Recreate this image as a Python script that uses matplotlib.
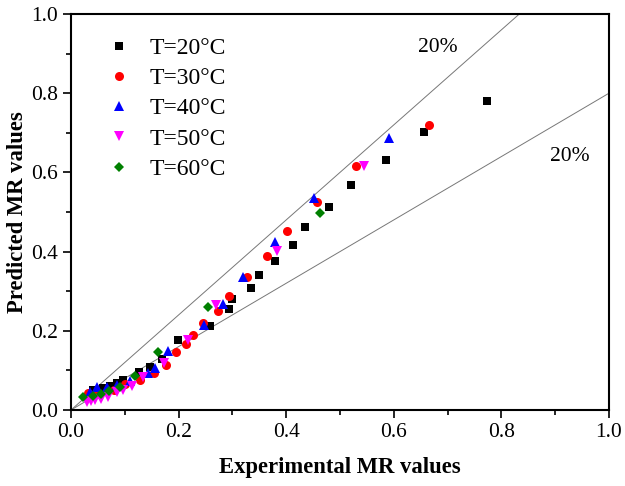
import numpy as np
import matplotlib
matplotlib.use("Agg")
import matplotlib.pyplot as plt
from matplotlib.ticker import MultipleLocator

plt.rcParams['font.family'] = ['Liberation Serif', 'DejaVu Serif']

# experimental vs predicted MR values, one pair of lists per temperature
x20 = [0.041, 0.060, 0.072, 0.085, 0.097, 0.126, 0.147, 0.170, 0.198, 0.258, 0.294,
       0.299, 0.335, 0.349, 0.380, 0.412, 0.435, 0.480, 0.520, 0.585, 0.657, 0.774]
y20 = [0.050, 0.055, 0.061, 0.067, 0.076, 0.095, 0.109, 0.130, 0.177, 0.212, 0.255,
       0.280, 0.309, 0.342, 0.377, 0.417, 0.463, 0.513, 0.569, 0.631, 0.702, 0.781]

x30 = [0.032, 0.047, 0.080, 0.100, 0.128, 0.155, 0.177, 0.196, 0.214, 0.227, 0.245,
       0.274, 0.294, 0.327, 0.364, 0.401, 0.458, 0.530, 0.666]
y30 = [0.042, 0.040, 0.050, 0.065, 0.076, 0.093, 0.114, 0.147, 0.166, 0.189, 0.219,
       0.250, 0.289, 0.335, 0.389, 0.452, 0.526, 0.615, 0.720]

x40 = [0.036, 0.048, 0.066, 0.085, 0.110, 0.144, 0.156, 0.180, 0.248, 0.282, 0.320,
       0.379, 0.452, 0.592]
y40 = [0.046, 0.057, 0.059, 0.062, 0.072, 0.093, 0.107, 0.148, 0.215, 0.268, 0.335,
       0.423, 0.535, 0.686]

x50 = [0.030, 0.038, 0.045, 0.055, 0.069, 0.085, 0.097, 0.113, 0.134, 0.172, 0.218,
       0.270, 0.382, 0.545]
y50 = [0.020, 0.022, 0.025, 0.028, 0.034, 0.046, 0.051, 0.061, 0.084, 0.118, 0.177,
       0.265, 0.402, 0.616]

x60 = [0.023, 0.040, 0.055, 0.070, 0.091, 0.119, 0.161, 0.255, 0.462]
y60 = [0.032, 0.036, 0.040, 0.047, 0.057, 0.086, 0.147, 0.261, 0.498]

series = [
    (x20, y20, 'T=20°C', 's', 'black', 5.8),
    (x30, y30, 'T=30°C', 'o', 'red', 6.5),
    (x40, y40, 'T=40°C', '^', 'blue', 7),
    (x50, y50, 'T=50°C', 'v', 'magenta', 7),
    (x60, y60, 'T=60°C', 'D', 'green', 5.5),
]

fig = plt.figure(figsize=(6.25, 4.86), dpi=100)
ax = fig.add_axes([0.1136, 0.1564, 0.8608, 0.8148])

# +/-20% bounds
xx = np.array([0.0, 1.0])
ax.plot(xx, 1.2 * xx, color='#777777', lw=0.7, zorder=1)
ax.plot(xx, 0.8 * xx, color='#777777', lw=0.7, zorder=1)

for xs, ys, lab, m, c, ms in series:
    ax.plot(xs, ys, linestyle='none', marker=m, color=c, ms=ms, label=lab,
            markeredgewidth=0, zorder=3)

ax.text(0.681, 0.915, '20%', fontsize=15.5, ha='center', va='center')
ax.text(0.928, 0.640, '20%', fontsize=15.5, ha='center', va='center')

ax.set_xlim(0, 1)
ax.set_ylim(0, 1)
ax.xaxis.set_major_locator(MultipleLocator(0.2))
ax.yaxis.set_major_locator(MultipleLocator(0.2))
ax.xaxis.set_minor_locator(MultipleLocator(0.1))
ax.yaxis.set_minor_locator(MultipleLocator(0.1))
ax.tick_params(which='both', direction='out', width=1.2, labelsize=15.5)
ax.tick_params(which='major', length=6)
ax.tick_params(which='minor', length=3.5)
for s in ax.spines.values():
    s.set_linewidth(1.5)

ax.set_xlabel('Experimental MR values', fontsize=16.3, fontweight='bold', labelpad=11)
ax.set_ylabel('Predicted MR values', fontsize=16.3, fontweight='bold', labelpad=2)

ax.legend(loc='upper left', bbox_to_anchor=(0.050, 0.965), frameon=False,
          fontsize=17, handlelength=1.0, handletextpad=0.77, labelspacing=0.37,
          borderaxespad=0)

fig.savefig('out.png', dpi=100)
